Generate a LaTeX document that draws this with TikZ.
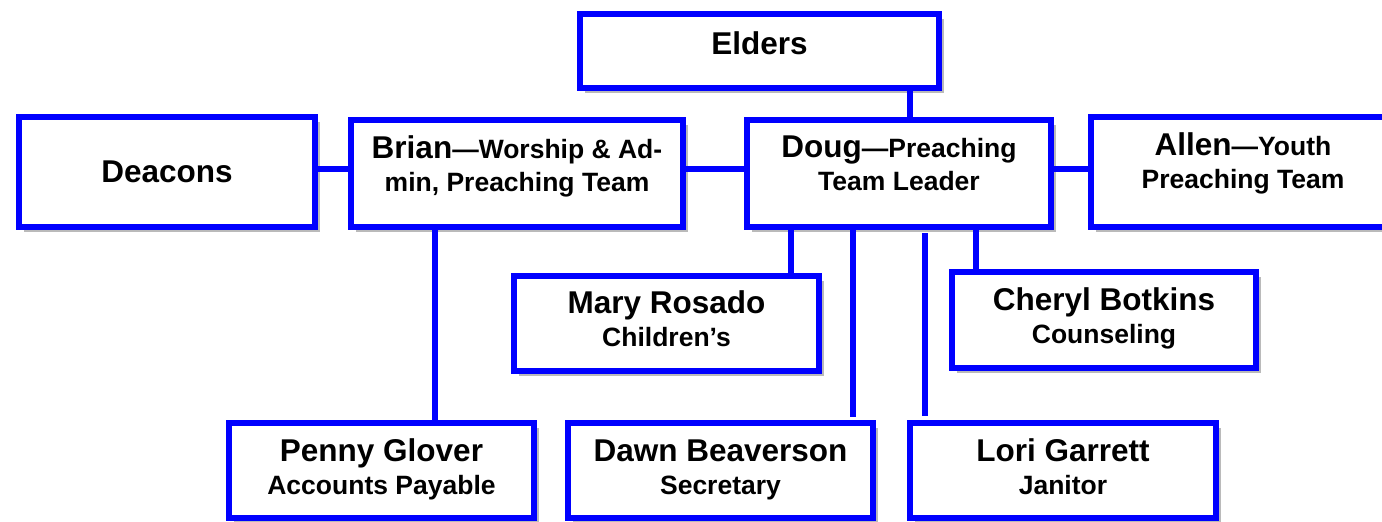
\documentclass[tikz,border=0pt]{standalone}
\usepackage{fontspec}
\setmainfont{Liberation Sans}
\usetikzlibrary{shadows}
\definecolor{orgblue}{RGB}{0,0,255}
\newcommand{\mainsz}{\fontsize{31.5}{33}\selectfont}
\newcommand{\subsz}{\fontsize{26.5}{33}\selectfont}
\tikzset{
  orgbox/.style={draw=orgblue, line width=6pt, fill=white, rectangle,
    inner sep=0pt, align=center, font=\bfseries\subsz,
    drop shadow={shadow xshift=5pt, shadow yshift=-5pt, opacity=0.45, fill=black!60}},
  link/.style={draw=orgblue, line width=6pt}
}
\begin{document}
\begin{tikzpicture}[x=1pt,y=-1pt]
\useasboundingbox (0,0) rectangle (1382,522);
% top row
\node[orgbox, minimum width=359pt, minimum height=74pt, text depth=16pt] (elders) at (759.5,51) {\mainsz Elders};
\node[orgbox, minimum width=296pt, minimum height=110pt] (deacons) at (167,172) {\mainsz Deacons};
\node[orgbox, minimum width=332pt, minimum height=107pt, text depth=19pt] (brian) at (517,173.5) {{\mainsz Brian}---Worship \& Ad-\\min, Preaching Team};
\node[orgbox, minimum width=304pt, minimum height=107pt, text depth=20pt] (doug) at (899,173.5) {{\mainsz Doug}---Preaching\\Team Leader};
\node[orgbox, minimum width=304pt, minimum height=110pt, text depth=22pt] (allen) at (1243,172) {{\mainsz Allen}---Youth\\Preaching Team};
% middle row
\node[orgbox, minimum width=305pt, minimum height=95pt, text depth=9pt] (mary) at (666.5,323.5) {{\mainsz Mary Rosado}\\Children’s};
\node[orgbox, minimum width=304pt, minimum height=96pt, text depth=9pt] (cheryl) at (1104,320) {{\mainsz Cheryl Botkins}\\Counseling};
% bottom row
\node[orgbox, minimum width=305pt, minimum height=95pt, text depth=7pt] (penny) at (381.5,470.5) {{\mainsz Penny Glover}\\Accounts Payable};
\node[orgbox, minimum width=305pt, minimum height=95pt, text depth=7pt] (dawn) at (720.5,470.5) {{\mainsz Dawn Beaverson}\\Secretary};
\node[orgbox, minimum width=306pt, minimum height=95pt, text depth=7pt] (lori) at (1063,470.5) {{\mainsz Lori Garrett}\\Janitor};
% connector guide coordinates
\coordinate (xe) at (910,0);
\coordinate (xp) at (435,0);
\coordinate (xm) at (791,0);
\coordinate (xd) at (853,0);
\coordinate (xl) at (925,0);
\coordinate (xc) at (976,0);
\coordinate (yb) at (0,169);
% connectors
\draw[link] (elders.south -| xe) -- (doug.north -| xe);
\draw[link] (deacons.east |- yb) -- (brian.west |- yb);
\draw[link] (brian.east |- yb) -- (doug.west |- yb);
\draw[link] (doug.east |- yb) -- (allen.west |- yb);
\draw[link] (brian.south -| xp) -- (penny.north -| xp);
\draw[link] (doug.south -| xm) -- (mary.north -| xm);
\draw[link, shorten >=3pt] (doug.south -| xd) -- (dawn.north -| xd);
\draw[link, shorten <=3pt, shorten >=4pt] (doug.south -| xl) -- (lori.north -| xl);
\draw[link] (doug.south -| xc) -- (cheryl.north -| xc);
\end{tikzpicture}
\end{document}
